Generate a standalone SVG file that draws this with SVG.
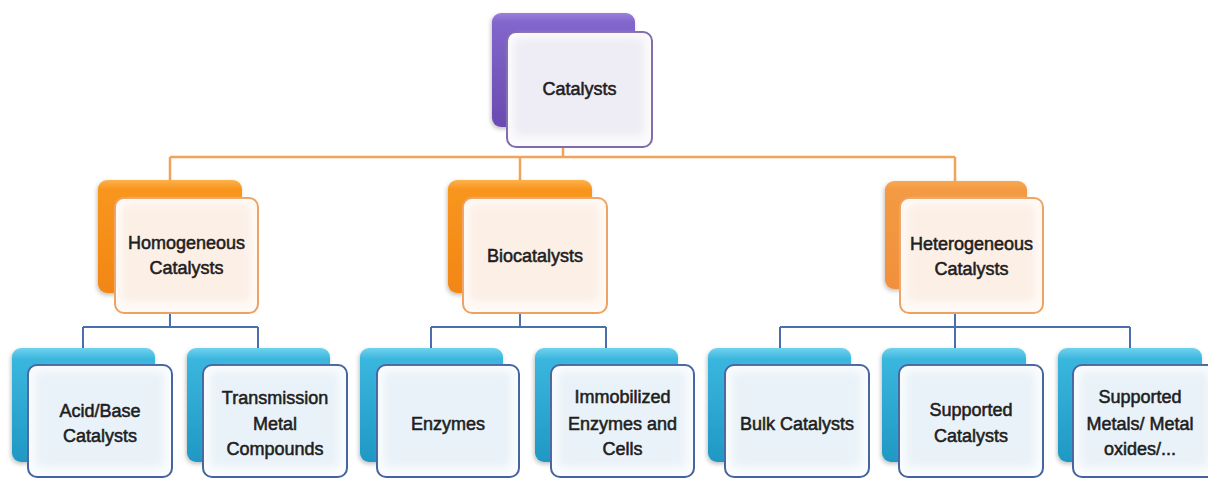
<svg xmlns="http://www.w3.org/2000/svg" width="1208" height="479" viewBox="0 0 1208 479">
<defs>
<linearGradient id="gPurple" x1="0" y1="0" x2="0" y2="1"><stop offset="0" stop-color="#9a7fdc"/><stop offset="0.08" stop-color="#8266cc"/><stop offset="1" stop-color="#6a4bb0"/></linearGradient>
<linearGradient id="gOrange" x1="0" y1="0" x2="0" y2="1"><stop offset="0" stop-color="#fcb24a"/><stop offset="0.08" stop-color="#f8961e"/><stop offset="1" stop-color="#f28614"/></linearGradient>
<linearGradient id="gOrange2" x1="0" y1="0" x2="0" y2="1"><stop offset="0" stop-color="#f8a850"/><stop offset="0.08" stop-color="#f49a44"/><stop offset="1" stop-color="#f0903c"/></linearGradient>
<linearGradient id="gBlue" x1="0" y1="0" x2="0" y2="1"><stop offset="0" stop-color="#6fd2ee"/><stop offset="0.1" stop-color="#3ab6de"/><stop offset="1" stop-color="#1f98c4"/></linearGradient>
<filter id="soft" x="-10%" y="-10%" width="120%" height="120%"><feGaussianBlur stdDeviation="4"/></filter>
<filter id="shadow" x="-10%" y="-10%" width="130%" height="130%"><feDropShadow dx="-1" dy="2" stdDeviation="2" flood-color="#000" flood-opacity="0.25"/></filter>
</defs>
<style>
.txt{font-family:"Liberation Sans",Arial,sans-serif;font-size:18px;fill:#1e1e1e;stroke:#1e1e1e;stroke-width:0.55;text-anchor:middle}
.bp{fill:url(#gPurple);filter:url(#shadow)}
.bo{fill:url(#gOrange);filter:url(#shadow)}
.bo2{fill:url(#gOrange2);filter:url(#shadow)}
.bb{fill:url(#gBlue);filter:url(#shadow)}
.fp{fill:#fbfbfd;stroke:#7f6aab;stroke-width:2}
.fo{fill:#fffaf6;stroke:#eea262;stroke-width:2}
.fb{fill:#fafcfe;stroke:#44639f;stroke-width:2}
.ip{fill:#eeecf4;filter:url(#soft)}
.io{fill:#fcefe6;filter:url(#soft)}
.ib{fill:#e9f2f8;filter:url(#soft)}
.co{fill:none;stroke:#f0a35a;stroke-width:2.5}
.cb{fill:none;stroke:#4a6eae;stroke-width:2}
</style>
<rect width="1208" height="479" fill="#ffffff"/>
<g id="connectors">
<path class="co" d="M563 140 V157 M170 157 H955 M170 157 V182 M520 157 V182 M955 157 V182"/>
<path class="cb" d="M170 300 V327 M83 327 H258 M83 327 V348 M258 327 V348"/>
<path class="cb" d="M520 300 V327 M431 327 H606 M431 327 V348 M606 327 V348"/>
<path class="cb" d="M955 300 V327 M780 327 H1130 M780 327 V348 M955 327 V348 M1130 327 V348"/>
</g>
<g id="node-catalysts">
<rect class="bp" x="492" y="13" width="143" height="114" rx="9"/>
<rect class="fp" x="507" y="32" width="145" height="115" rx="9"/>
<rect class="ip" x="514" y="38" width="130" height="98" rx="6"/>
<text class="txt" x="579.5" y="95">Catalysts</text>
</g>
<g id="node-homogeneous">
<rect class="bo" x="98" y="180" width="144" height="113" rx="9"/>
<rect class="fo" x="115" y="198" width="143" height="115" rx="9"/>
<rect class="io" x="122" y="204" width="128" height="98" rx="6"/>
<text class="txt" x="186.5" y="249">Homogeneous</text>
<text class="txt" x="186.5" y="274">Catalysts</text>
</g>
<g id="node-biocatalysts">
<rect class="bo" x="448" y="180" width="144" height="113" rx="9"/>
<rect class="fo" x="463" y="198" width="144" height="115" rx="9"/>
<rect class="io" x="470" y="204" width="129" height="98" rx="6"/>
<text class="txt" x="535" y="262">Biocatalysts</text>
</g>
<g id="node-heterogeneous">
<rect class="bo2" x="885" y="181" width="142" height="108" rx="9"/>
<rect class="fo" x="900" y="198" width="143" height="115" rx="9"/>
<rect class="io" x="907" y="204" width="128" height="98" rx="6"/>
<text class="txt" x="971.5" y="250">Heterogeneous</text>
<text class="txt" x="971.5" y="275">Catalysts</text>
</g>
<g id="node-acidbase">
<rect class="bb" x="12" y="348" width="143" height="114" rx="9"/>
<rect class="fb" x="28" y="365" width="144" height="112" rx="9"/>
<rect class="ib" x="35" y="371" width="129" height="96" rx="6"/>
<text class="txt" x="100" y="417">Acid/Base</text>
<text class="txt" x="100" y="442">Catalysts</text>
</g>
<g id="node-transmission">
<rect class="bb" x="187" y="348" width="143" height="114" rx="9"/>
<rect class="fb" x="203" y="365" width="144" height="112" rx="9"/>
<rect class="ib" x="210" y="371" width="129" height="96" rx="6"/>
<text class="txt" x="275" y="404">Transmission</text>
<text class="txt" x="275" y="430">Metal</text>
<text class="txt" x="275" y="455">Compounds</text>
</g>
<g id="node-enzymes">
<rect class="bb" x="360" y="348" width="143" height="114" rx="9"/>
<rect class="fb" x="377" y="365" width="142" height="112" rx="9"/>
<rect class="ib" x="384" y="371" width="127" height="96" rx="6"/>
<text class="txt" x="448" y="430">Enzymes</text>
</g>
<g id="node-immobilized">
<rect class="bb" x="535" y="348" width="143" height="114" rx="9"/>
<rect class="fb" x="551" y="365" width="143" height="112" rx="9"/>
<rect class="ib" x="558" y="371" width="128" height="96" rx="6"/>
<text class="txt" x="622.5" y="403">Immobilized</text>
<text class="txt" x="622.5" y="430">Enzymes and</text>
<text class="txt" x="622.5" y="455">Cells</text>
</g>
<g id="node-bulk">
<rect class="bb" x="708" y="348" width="143" height="114" rx="9"/>
<rect class="fb" x="725" y="365" width="144" height="112" rx="9"/>
<rect class="ib" x="732" y="371" width="129" height="96" rx="6"/>
<text class="txt" x="797" y="430">Bulk Catalysts</text>
</g>
<g id="node-supported">
<rect class="bb" x="882" y="348" width="144" height="114" rx="9"/>
<rect class="fb" x="899" y="365" width="144" height="112" rx="9"/>
<rect class="ib" x="906" y="371" width="129" height="96" rx="6"/>
<text class="txt" x="971" y="416">Supported</text>
<text class="txt" x="971" y="442">Catalysts</text>
</g>
<g id="node-supported-metals">
<rect class="bb" x="1058" y="348" width="144" height="114" rx="9"/>
<rect class="fb" x="1073" y="365" width="144" height="112" rx="9"/>
<rect class="ib" x="1080" y="371" width="129" height="96" rx="6"/>
<text class="txt" x="1140" y="403">Supported</text>
<text class="txt" x="1140" y="430">Metals/ Metal</text>
<text class="txt" x="1140" y="455">oxides/...</text>
</g>
</svg>
